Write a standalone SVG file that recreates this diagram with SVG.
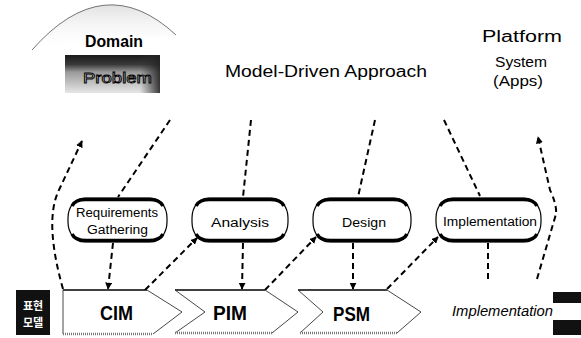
<svg xmlns="http://www.w3.org/2000/svg" width="581" height="338" viewBox="0 0 581 338">
  <defs>
    <marker id="arr" viewBox="0 0 10 10" refX="9" refY="5" markerWidth="7" markerHeight="7" markerUnits="userSpaceOnUse" orient="auto">
      <path d="M0,0 L10,5 L0,10 Z" fill="#000"/>
    </marker>
    <linearGradient id="arcShade" x1="0" y1="0" x2="0" y2="1">
      <stop offset="0" stop-color="#c8c8c8" stop-opacity="0.55"/>
      <stop offset="0.5" stop-color="#e4e4e4" stop-opacity="0.3"/>
      <stop offset="1" stop-color="#fff" stop-opacity="0"/>
    </linearGradient>
    <linearGradient id="probV" x1="0" y1="0" x2="0" y2="1">
      <stop offset="0" stop-color="#1a1a1a"/>
      <stop offset="0.25" stop-color="#3a3a3a"/>
      <stop offset="0.45" stop-color="#9a9a9a"/>
      <stop offset="1" stop-color="#e6e6e6"/>
    </linearGradient>
    <linearGradient id="probH" x1="0" y1="0" x2="1" y2="0">
      <stop offset="0" stop-color="#333" stop-opacity="0"/>
      <stop offset="1" stop-color="#222" stop-opacity="0.9"/>
    </linearGradient>
    <style>
      .t { font-family: "Liberation Sans", Arial, sans-serif; fill: #000; }
      .dash { fill: none; stroke: #000; stroke-width: 2; stroke-dasharray: 6 4; }
      .pill { fill: #fff; stroke: #000; stroke-width: 1.2; }
      .band { fill: none; stroke: #000; stroke-width: 3.5; }
      .shape { fill: #fff; stroke: none; }
      .topedge { stroke: #000; stroke-width: 1.6; fill: none; }
      .side { stroke: #333; stroke-width: 0.9; fill: none; }
      .bottomedge { stroke: #777; stroke-width: 2.5; stroke-dasharray: 1 1; fill: none; }
      .pt { font-size: 12.5px; }
      .mt { font-size: 20px; font-weight: bold; }
      .ko { font-family: "Noto Sans CJK KR", sans-serif; font-size: 11px; font-weight: bold; fill: #fff; }
    </style>
  </defs>

  <g id="domain">
    <path d="M32,50 Q104,-32 176,35 Z" fill="url(#arcShade)" stroke="none"/>
    <path d="M32,50 Q104,-32 176,35" fill="none" stroke="#666" stroke-width="0.9"/>
    <text class="t" x="114" y="47" font-size="16" font-weight="bold" text-anchor="middle" textLength="58" lengthAdjust="spacingAndGlyphs">Domain</text>
    <rect x="65" y="55" width="95" height="38" fill="url(#probV)"/>
    <rect x="140" y="55" width="20" height="38" fill="url(#probH)"/>
    <text class="t" x="83" y="83" font-size="15" textLength="69" lengthAdjust="spacingAndGlyphs" style="fill:#fafafa;stroke:#000;stroke-width:0.9">Problem</text>
  </g>

  <g id="title">
    <text class="t" x="225" y="77" font-size="16" textLength="202" lengthAdjust="spacingAndGlyphs">Model-Driven Approach</text>
  </g>

  <g id="platform">
    <text class="t" x="482" y="42" font-size="16" textLength="80" lengthAdjust="spacingAndGlyphs">Platform</text>
    <text class="t" x="495" y="67" font-size="15" textLength="52" lengthAdjust="spacingAndGlyphs">System</text>
    <text class="t" x="493" y="86" font-size="15" textLength="50" lengthAdjust="spacingAndGlyphs">(Apps)</text>
  </g>

  <g id="connectors">
    <path class="dash" d="M63,289 C52,250 48,215 58,192 L82,141" marker-end="url(#arr)"/>
    <path class="dash" d="M537,279 L556,214 Q557,205 550,190 L538,137" marker-end="url(#arr)"/>
    <path class="dash" d="M170,120 L118,197"/>
    <path class="dash" d="M251,120 L243,197"/>
    <path class="dash" d="M375,120 L358,197"/>
    <path class="dash" d="M444,120 L480,196"/>
    <path class="dash" d="M113,243 L108,289" marker-end="url(#arr)"/>
    <path class="dash" d="M145,290 L197,238" marker-end="url(#arr)"/>
    <path class="dash" d="M243,243 L242,289" marker-end="url(#arr)"/>
    <path class="dash" d="M265,290 L316,237" marker-end="url(#arr)"/>
    <path class="dash" d="M353,243 L353,289" marker-end="url(#arr)"/>
    <path class="dash" d="M387,289 L438,237" marker-end="url(#arr)"/>
    <path class="dash" d="M488,243 L488,279"/>
  </g>

  <g id="requirements">
    <rect class="pill" x="68" y="198" width="99" height="44" rx="16" ry="20"/>
    <path class="band" d="M72,206 Q75,199.5 86,199.5 L149,199.5 Q160,199.5 163,206"/>
    <path class="band" d="M72,234 Q75,240.5 86,240.5 L149,240.5 Q160,240.5 163,234"/>
    <text class="t pt" x="76" y="217" textLength="82" lengthAdjust="spacingAndGlyphs">Requirements</text>
    <text class="t pt" x="87" y="234" textLength="61" lengthAdjust="spacingAndGlyphs">Gathering</text>
  </g>

  <g id="analysis">
    <rect class="pill" x="192" y="198" width="96" height="44" rx="16" ry="20"/>
    <path class="band" d="M196,206 Q199,199.5 210,199.5 L270,199.5 Q281,199.5 284,206"/>
    <path class="band" d="M196,234 Q199,240.5 210,240.5 L270,240.5 Q281,240.5 284,234"/>
    <text class="t pt" x="211" y="227" textLength="58" lengthAdjust="spacingAndGlyphs">Analysis</text>
  </g>

  <g id="design">
    <rect class="pill" x="313" y="198" width="98" height="44" rx="16" ry="20"/>
    <path class="band" d="M317,206 Q320,199.5 331,199.5 L393,199.5 Q404,199.5 407,206"/>
    <path class="band" d="M317,234 Q320,240.5 331,240.5 L393,240.5 Q404,240.5 407,234"/>
    <text class="t pt" x="342" y="227" textLength="44" lengthAdjust="spacingAndGlyphs">Design</text>
  </g>

  <g id="implementation">
    <rect class="pill" x="436" y="198" width="105" height="44" rx="16" ry="20"/>
    <path class="band" d="M440,206 Q443,199.5 454,199.5 L523,199.5 Q534,199.5 537,206"/>
    <path class="band" d="M440,234 Q443,240.5 454,240.5 L523,240.5 Q534,240.5 537,234"/>
    <text class="t pt" x="443" y="226" textLength="94" lengthAdjust="spacingAndGlyphs">Implementation</text>
  </g>

  <g id="model-label">
    <rect x="16" y="290" width="34" height="45" fill="#111"/>
    <text class="ko" x="33" y="310" text-anchor="middle">표현</text>
    <text class="ko" x="33" y="327" text-anchor="middle">모델</text>
  </g>

  <g id="cim">
    <polygon class="shape" points="63,290 147,290 182,312 153,334 63,334"/>
    <path class="topedge" d="M63,290 L147,290"/>
    <path class="side" d="M63,290 L63,334 M147,290 L182,312 L153,334"/>
    <path class="bottomedge" d="M63,334 L153,334"/>
    <text class="t mt" x="100" y="320" textLength="33" lengthAdjust="spacingAndGlyphs">CIM</text>
  </g>

  <g id="pim">
    <polygon class="shape" points="175,290 265,290 298,312 272,333 175,333 205,312"/>
    <path class="topedge" d="M175,290 L265,290"/>
    <path class="side" d="M175,290 L205,312 L175,333 M265,290 L298,312 L272,333"/>
    <path class="bottomedge" d="M175,333 L272,333"/>
    <text class="t mt" x="213" y="320" textLength="34" lengthAdjust="spacingAndGlyphs">PIM</text>
  </g>

  <g id="psm">
    <polygon class="shape" points="298,290 387,290 421,312 397,333 300,333 323,312"/>
    <path class="topedge" d="M298,290 L387,290"/>
    <path class="side" d="M298,290 L323,312 L300,333 M387,290 L421,312 L397,333"/>
    <path class="bottomedge" d="M300,333 L397,333"/>
    <text class="t mt" x="333" y="321" textLength="37" lengthAdjust="spacingAndGlyphs">PSM</text>
  </g>

  <g id="impl-model">
    <text class="t" x="452" y="316" font-size="14" font-style="italic" textLength="101" lengthAdjust="spacingAndGlyphs">Implementation</text>
    <rect x="553" y="292" width="28" height="11" fill="#111"/>
    <rect x="553" y="320" width="28" height="15" fill="#111"/>
  </g>
</svg>
